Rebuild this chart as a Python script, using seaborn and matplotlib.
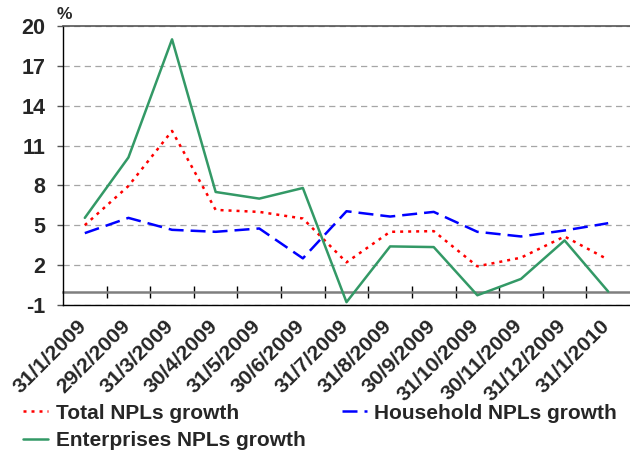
import matplotlib
matplotlib.use("Agg")
import matplotlib.pyplot as plt
import matplotlib.transforms as mtransforms
import seaborn as sns
import pandas as pd
import numpy as np

# Month-end dates
dates = ["31/1/2009", "29/2/2009", "31/3/2009", "30/4/2009", "31/5/2009",
         "30/6/2009", "31/7/2009", "31/8/2009", "30/9/2009", "31/10/2009",
         "30/11/2009", "31/12/2009", "31/1/2010"]

# Growth rates (%)
total_npl = [5.0, 7.95, 12.1, 6.15, 6.0, 5.5, 2.2, 4.5, 4.55, 1.9, 2.55, 4.15, 2.4]
household_npl = [4.4, 5.55, 4.65, 4.5, 4.75, 2.5, 6.05, 5.65, 6.0, 4.5, 4.15, 4.6, 5.15]
enterprise_npl = [5.55, 10.1, 19.0, 7.5, 7.0, 7.8, -0.8, 3.4, 3.35, -0.28, 0.95, 3.85, 0.0]

y_ticks = [-1, 2, 5, 8, 11, 14, 17, 20]

series_names = ["Total NPLs growth", "Household NPLs growth", "Enterprises NPLs growth"]

df = pd.DataFrame({
    "pos": list(range(len(dates))) * 3,
    "value": total_npl + household_npl + enterprise_npl,
    "series": np.repeat(series_names, len(dates)),
})

sns.set_theme(style="white")
plt.rcParams["font.family"] = ["Liberation Sans", "DejaVu Sans"]
plt.rcParams["font.weight"] = "bold"

fig = plt.figure(figsize=(6.3, 4.57), dpi=100)
ax = fig.add_axes([0.1, 0.333, 0.9, 0.61])

palette = {"Total NPLs growth": "#FF0000",
           "Household NPLs growth": "#0000FF",
           "Enterprises NPLs growth": "#339966"}
dashes = {"Total NPLs growth": (1.2, 2.0),
          "Household NPLs growth": (6.0, 2.8),
          "Enterprises NPLs growth": ""}

sns.lineplot(data=df, x="pos", y="value", hue="series", style="series",
             hue_order=series_names, style_order=series_names,
             palette=palette, dashes=dashes, linewidth=1.8, ax=ax, zorder=3)

ax.set_xlim(-0.5, len(dates) - 0.5)
ax.set_ylim(-1, 20)
ax.set_yticks(y_ticks)
ax.set_yticklabels([str(v) for v in y_ticks], fontsize=15.5, fontweight="bold")
ax.set_xticks(range(len(dates)))
ax.set_xticklabels(dates, rotation=45, ha="right", va="top",
                   rotation_mode="anchor", fontsize=15.3, fontweight="bold")
ax.tick_params(axis="x", length=0, pad=8)
ax.tick_params(axis="y", length=4.5, width=1, color="#555555", pad=8, direction="out", left=True)
shift = mtransforms.ScaledTranslation(-8 / 100, 0, fig.dpi_scale_trans)
for lab in ax.get_xticklabels():
    lab.set_transform(lab.get_transform() + shift)
ax.set_xlabel("")
ax.set_ylabel("")

# Horizontal dashed gridlines
ax.yaxis.grid(True, linestyle=(0, (5, 3.5)), color="#a6a6a6", linewidth=0.9)
ax.set_axisbelow(True)

for side in ["left", "bottom"]:
    ax.spines[side].set_color("black")
    ax.spines[side].set_linewidth(1.0)
ax.spines["top"].set_color("#555555")
ax.spines["top"].set_linewidth(1.2)
ax.spines["right"].set_visible(False)

# Zero line carrying the category separators
zero_frac = (0 - (-1)) / (20 - (-1))
sec = ax.secondary_xaxis(zero_frac)
sec.set_xticks(np.arange(0.5, len(dates) - 0.5, 1.0))
sec.set_xticklabels([])
sec.tick_params(axis="x", direction="inout", length=8, width=1, color="black")
sec.spines["bottom"].set_color("#7f7f7f")
sec.spines["bottom"].set_linewidth(1.8)
sec.spines["top"].set_visible(False)

ax.annotate("%", xy=(0, 1), xycoords="axes fraction", xytext=(-6, 4),
            textcoords="offset pixels", ha="left", va="bottom",
            fontsize=12.5, fontweight="bold")

handles, labels = ax.get_legend_handles_labels()
ax.legend_.remove()
order = [0, 2, 1]
fig.legend([handles[i] for i in order], [labels[i] for i in order],
           loc="upper left", bbox_to_anchor=(0.037, 0.117),
           ncol=2, frameon=False, prop={"size": 15, "weight": "bold"},
           handlelength=1.2, handletextpad=0.35, columnspacing=1.75,
           labelspacing=0.4, borderaxespad=0, borderpad=0)

fig.savefig("out.png", dpi=100)
